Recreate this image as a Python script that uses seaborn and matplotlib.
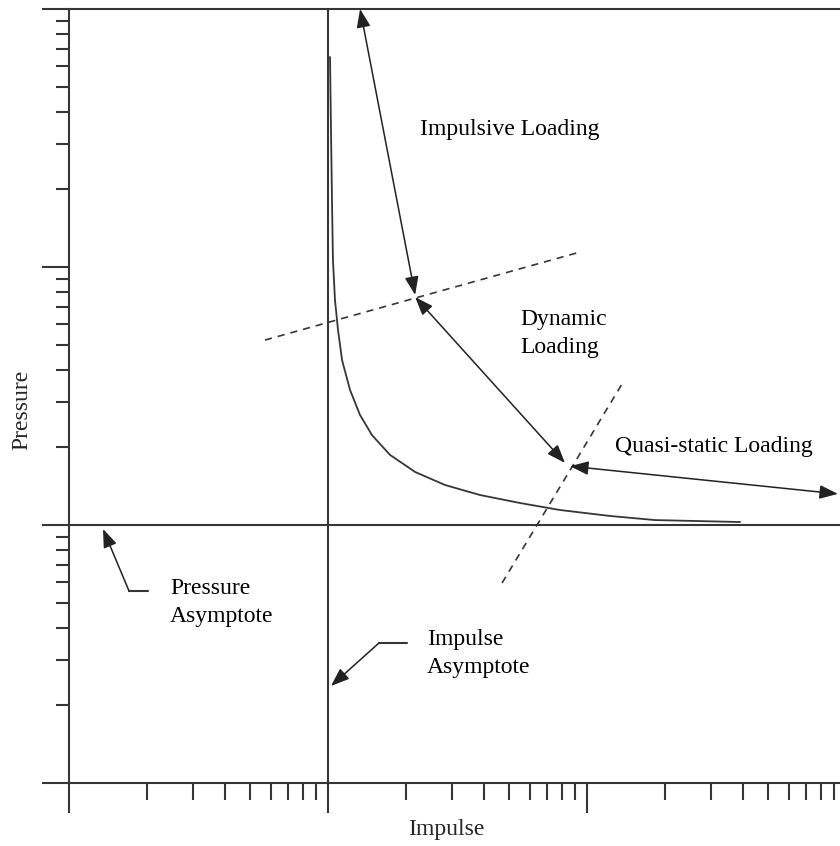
"""
Pressure-impulse (P-I) diagram with loading regimes.
"""
import matplotlib
matplotlib.use("Agg")
import matplotlib.pyplot as plt
import numpy as np
import pandas as pd
import seaborn as sns
from matplotlib.ticker import FixedLocator, NullFormatter

# ---------------------------------------------
# data (log-log units)
# ---------------------------------------------
curve_impulse = [10.18, 10.27, 10.36, 10.45, 10.64, 10.93, 11.33, 12.16, 13.29,
                 14.79, 17.35, 21.7, 28.3, 38.6, 55.1, 78.7, 122.7, 183.0, 390.0]
curve_pressure = [651.6, 339.6, 181.9, 106.4, 74.5, 57.0, 43.6, 33.4, 26.7,
                  22.3, 18.7, 16.05, 14.29, 13.07, 12.17, 11.43, 10.84, 10.45, 10.27]

pressure_asymptote = 10.0
impulse_asymptote = 10.0
top_pressure = 1000.0

# regime arrows: (start, end) as (impulse, pressure)
regime_arrows = {
    "impulsive": ((13.3, 1000.0), (21.7, 77.9)),
    "dynamic": ((21.7, 76.5), (82.2, 17.4)),
    "quasi": ((86.0, 16.9), (931.0, 13.2)),
}

# dashed regime boundaries
boundary_a_x = [5.71, 94.0]
boundary_a_y = [52.1, 114.3]
boundary_b_x = [47.0, 136.5]
boundary_b_y = [5.96, 35.2]

# asymptote pointers: elbow path and arrow tip
p_pointer_x = [2.02, 1.705]
p_pointer_y = [5.55, 5.55]
p_pointer_tip = (1.353, 9.65)
i_pointer_x = [20.18, 15.74]
i_pointer_y = [3.49, 3.49]
i_pointer_tip = (10.27, 2.377)

major_ticks = [1, 10, 100, 1000]
minor_ticks = [k * 10 ** d for d in range(3) for k in range(2, 10)]

INK = "#363636"

# ---------------------------------------------
# figure
# ---------------------------------------------
sns.set_theme(style="white")
plt.rcParams["font.family"] = ["Liberation Serif", "DejaVu Serif"]

fig = plt.figure(figsize=(8.4, 8.46), dpi=100)
ax = fig.add_axes([0, 0, 1, 1])
ax.set_xscale("log")
ax.set_yscale("log")
ax.patch.set_alpha(0)

# P-I curve
curve = pd.DataFrame({"impulse": curve_impulse, "pressure": curve_pressure})
sns.lineplot(data=curve, x="impulse", y="pressure", ax=ax, color=INK, lw=1.3,
             estimator=None, sort=False)
ax.set_xlabel("")
ax.set_ylabel("")

ax.set_xlim(10 ** (-69 / 259), 10 ** (771 / 259))
ax.set_ylim(10 ** (-63 / 258), 10 ** (783 / 258))

# axes as spines through (1, 1)
for side in ("top", "right"):
    ax.spines[side].set_visible(False)
ax.spines["left"].set_position(("data", 1))
ax.spines["bottom"].set_position(("data", 1))
ax.spines["left"].set_bounds(1, top_pressure)
ax.spines["bottom"].set_bounds(1, ax.get_xlim()[1])
for side in ("left", "bottom"):
    ax.spines[side].set_color(INK)
    ax.spines[side].set_linewidth(1.5)

for axis in (ax.xaxis, ax.yaxis):
    axis.set_major_locator(FixedLocator(major_ticks))
    axis.set_minor_locator(FixedLocator(minor_ticks))
    axis.set_major_formatter(NullFormatter())
    axis.set_minor_formatter(NullFormatter())
ax.tick_params(which="both", bottom=True, left=True, top=False, right=False)
ax.tick_params(axis="x", which="major", direction="out", length=21.6, width=1.5, color=INK)
ax.tick_params(axis="x", which="minor", direction="out", length=12.2, width=1.5, color=INK)
ax.tick_params(axis="y", which="major", direction="out", length=19.4, width=1.5, color=INK)
ax.tick_params(axis="y", which="minor", direction="out", length=9.4, width=1.5, color=INK)

# asymptotes and top frame line
ax.plot([1, ax.get_xlim()[1]], [pressure_asymptote] * 2, color=INK, lw=1.5)
ax.plot([1, ax.get_xlim()[1]], [top_pressure] * 2, color=INK, lw=1.5)
ax.plot([impulse_asymptote] * 2, [1, top_pressure], color=INK, lw=1.5)

# regime boundaries
ax.plot(boundary_a_x, boundary_a_y, color=INK, lw=1.2, ls=(0, (4.3, 3.6)))
ax.plot(boundary_b_x, boundary_b_y, color=INK, lw=1.2, ls=(0, (4.3, 3.6)))

# double-headed regime arrows
for start, end in regime_arrows.values():
    ax.annotate("", xy=end, xytext=start,
                arrowprops=dict(arrowstyle="<|-|>,head_length=0.8,head_width=0.3",
                                mutation_scale=14, color="#222222", lw=1.1,
                                shrinkA=0, shrinkB=0))

# asymptote pointers
for px, py, tip in ((p_pointer_x, p_pointer_y, p_pointer_tip),
                    (i_pointer_x, i_pointer_y, i_pointer_tip)):
    ax.plot(px, py, color=INK, lw=1.5)
    ax.annotate("", xy=tip, xytext=(px[-1], py[-1]),
                arrowprops=dict(arrowstyle="-|>,head_length=0.8,head_width=0.3",
                                mutation_scale=14, color="#222222", lw=1.1,
                                shrinkA=0, shrinkB=0))

# labels
txt = dict(fontsize=17, color="black", ha="left", va="baseline", linespacing=1.45)
ax.text(22.66, 324.9, "Impulsive Loading", **txt)
ax.text(55.1, 46.4, "Dynamic\nLoading", **txt)
ax.text(128.3, 19.18, "Quasi-static Loading", **txt)
ax.text(2.455, 4.21, "Pressure\nAsymptote", **txt)
ax.text(24.1, 2.669, "Impulse\nAsymptote", **txt)

fig.text(446 / 840, 1 - 835 / 846, "Impulse", fontsize=17, ha="center", va="baseline")
fig.text(22 / 840, 1 - 410 / 846, "Pressure", fontsize=17, rotation=90,
         ha="center", va="center")

fig.savefig("out.png", dpi=100, facecolor="white")
